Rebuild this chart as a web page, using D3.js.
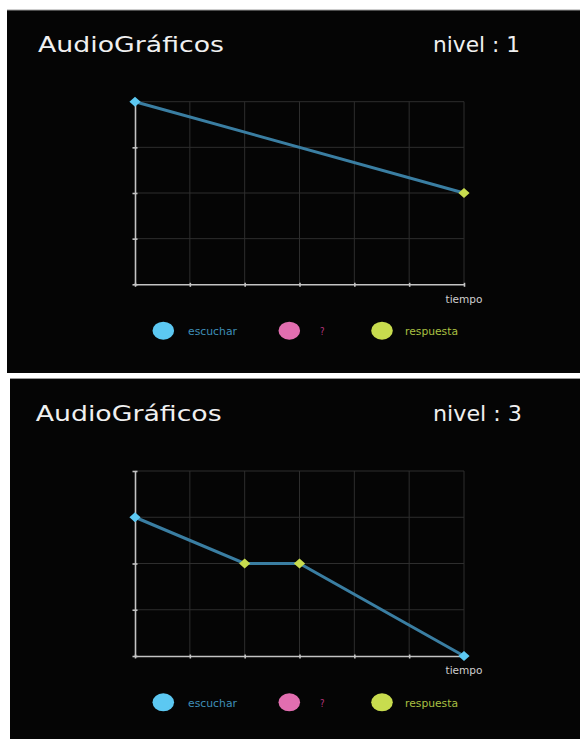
<!DOCTYPE html>
<html>
<head>
<meta charset="utf-8">
<script src="https://cdn.jsdelivr.net/npm/d3@7"></script>
<style>
  html, body { margin: 0; padding: 0; background: #ffffff; }
  svg { display: block; }
</style>
</head>
<body>
<svg id="chart" width="580" height="739"></svg>
<script>
// ---- data ----
const levels = ["1", "3"];
const xTicks = [0, 1, 2, 3, 4, 5, 6];
const yTicks = [0, 1, 2, 3, 4];
const level1X = [0, 6];
const level1Y = [4, 2];
const level1Kind = ["escuchar", "respuesta"];
const level3X = [0, 2, 3, 6];
const level3Y = [3, 2, 2, 0];
const level3Kind = ["escuchar", "respuesta", "respuesta", "escuchar"];
const legendLabels = ["escuchar", "?", "respuesta"];
const titleText = "AudioGráficos";
const xAxisLabel = "tiempo";

// ---- styles ----
const markColor = { "escuchar": "#5cc8f2", "?": "#e26eb0", "respuesta": "#c8dc4e" };
const legendTextColor = { "escuchar": "#3f8fb8", "?": "#b8357f", "respuesta": "#a9c042" };
const lineColor = "#3a7ea2";

// ---- layout per panel ----
const panelLayout = [
  { bx: 7, by: 10, bw: 573, bh: 363, yTop: 101.7, yBot: 284.3, titleY: 52.3, tiempoY: 302.7, legY: 330.7, legTextY: 334.8, nivW: 87 },
  { bx: 10, by: 378.5, bw: 570, bh: 361, yTop: 471, yBot: 656, titleY: 421, tiempoY: 674, legY: 702.3, legTextY: 706.5, nivW: 89 }
];
const panelData = [
  { xs: level1X, ys: level1Y, kinds: level1Kind },
  { xs: level3X, ys: level3Y, kinds: level3Kind }
];

const svg = d3.select("#chart");
const font = "'DejaVu Sans', sans-serif";

levels.forEach((lvl, i) => {
  const L = panelLayout[i];
  const D = panelData[i];
  const g = svg.append("g");

  // panel background
  g.append("rect").attr("x", L.bx).attr("y", L.by).attr("width", L.bw).attr("height", L.bh).attr("fill", "#050505");
  g.append("line").attr("x1", L.bx).attr("x2", L.bx + L.bw).attr("y1", L.by).attr("y2", L.by)
    .attr("stroke", "#9a9a9a").attr("stroke-width", 1);

  // titles
  g.append("text").attr("x", i === 0 ? 38 : 35.7).attr("y", L.titleY)
    .attr("font-family", font).attr("font-size", 21.5).attr("fill", "#f0f0f0")
    .attr("textLength", 186).attr("lengthAdjust", "spacingAndGlyphs")
    .text(titleText);
  g.append("text").attr("x", 433).attr("y", L.titleY)
    .attr("font-family", font).attr("font-size", 21.5).attr("fill", "#f0f0f0")
    .attr("textLength", L.nivW).attr("lengthAdjust", "spacingAndGlyphs")
    .text("nivel : " + lvl);

  // scales
  const x = d3.scaleLinear().domain([0, 6]).range([135, 464]);
  const y = d3.scaleLinear().domain([0, 4]).range([L.yBot, L.yTop]);

  // grid
  const grid = g.append("g");
  grid.selectAll("line.v").data(xTicks.slice(1)).join("line")
    .attr("x1", d => x(d)).attr("x2", d => x(d)).attr("y1", y(0)).attr("y2", y(4))
    .attr("stroke", "#2e2e2e").attr("stroke-width", 1);
  grid.selectAll("line.h").data(yTicks.slice(1)).join("line")
    .attr("x1", x(0)).attr("x2", x(6)).attr("y1", d => y(d)).attr("y2", d => y(d))
    .attr("stroke", "#2e2e2e").attr("stroke-width", 1);

  // axes
  const xAxis = g.append("g").attr("transform", `translate(0,${y(0)})`)
    .call(d3.axisBottom(x).tickValues(xTicks).tickSize(2.5).tickSizeOuter(0).tickFormat(""));
  const yAxis = g.append("g").attr("transform", `translate(${x(0)},0)`)
    .call(d3.axisLeft(y).tickValues(yTicks).tickSize(2.5).tickSizeOuter(0).tickFormat(""));
  [xAxis, yAxis].forEach(a => {
    a.select(".domain").attr("stroke", "#c4c4c4").attr("stroke-width", 1.6);
    a.selectAll(".tick line").attr("stroke", "#c4c4c4").attr("stroke-width", 1.6);
  });
  yAxis.selectAll(".tick line").attr("x1", 2.5);
  xAxis.selectAll(".tick line").attr("y1", -1.5);

  g.append("text").attr("x", 445.5).attr("y", L.tiempoY)
    .attr("font-family", font).attr("font-size", 10).attr("fill", "#cfcfcf")
    .attr("textLength", 37).attr("lengthAdjust", "spacingAndGlyphs")
    .text(xAxisLabel);

  // line
  const pts = D.xs.map((v, k) => [v, D.ys[k], D.kinds[k]]);
  g.append("path").datum(pts)
    .attr("d", d3.line().x(d => x(d[0])).y(d => y(d[1])))
    .attr("fill", "none").attr("stroke", lineColor).attr("stroke-width", 3);

  // diamonds
  g.selectAll("path.pt").data(pts).join("path")
    .attr("d", "M0,-5L5.6,0L0,5L-5.6,0Z")
    .attr("transform", d => `translate(${x(d[0])},${y(d[1])})`)
    .attr("fill", d => markColor[d[2]]);

  // legend
  const legX = [163.3, 289.3, 382];
  const legTextX = [188, 320, 405];
  const legTextW = [49, 4.5, 53];
  legendLabels.forEach((lab, k) => {
    g.append("ellipse").attr("cx", legX[k]).attr("cy", L.legY).attr("rx", 10.8).attr("ry", 9)
      .attr("fill", markColor[lab]);
    g.append("text").attr("x", legTextX[k]).attr("y", L.legTextY)
      .attr("font-family", font).attr("font-size", 10).attr("fill", legendTextColor[lab])
      .attr("textLength", legTextW[k]).attr("lengthAdjust", "spacingAndGlyphs")
      .text(lab);
  });
});
</script>
</body>
</html>
